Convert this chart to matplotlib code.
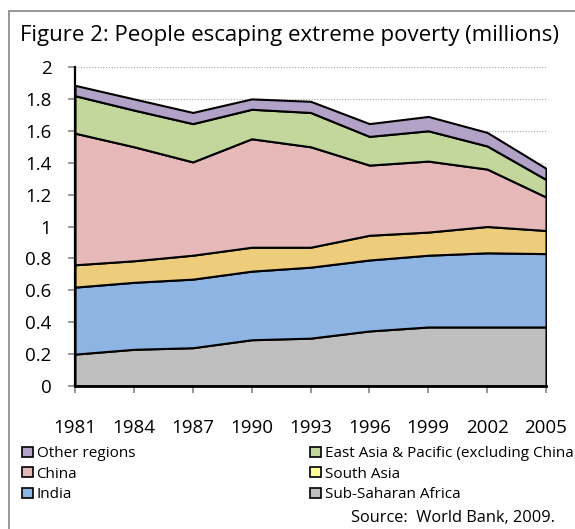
import matplotlib
matplotlib.use('Agg')
from matplotlib import pyplot as plt
from matplotlib.patches import Rectangle

plt.rcParams['font.family'] = 'Open Sans'

years = [1981, 1984, 1987, 1990, 1993, 1996, 1999, 2002, 2005]

# people escaping extreme poverty by region (millions, as labelled)
ssa = [0.20, 0.23, 0.24, 0.29, 0.30, 0.345, 0.37, 0.37, 0.37]
india = [0.42, 0.42, 0.43, 0.43, 0.445, 0.445, 0.45, 0.465, 0.46]
south_asia = [0.14, 0.135, 0.15, 0.15, 0.125, 0.155, 0.145, 0.165, 0.145]
china = [0.825, 0.715, 0.585, 0.68, 0.63, 0.44, 0.445, 0.36, 0.21]
east_asia = [0.235, 0.23, 0.24, 0.185, 0.215, 0.18, 0.19, 0.145, 0.11]
other = [0.065, 0.07, 0.07, 0.065, 0.07, 0.08, 0.09, 0.085, 0.07]

names = ['Sub-Saharan Africa', 'India', 'South Asia', 'China',
         'East Asia & Pacific (excluding China', 'Other regions']
colors = ['#BFBFBF', '#8EB4E3', '#EDCD7B', '#E6B9B8', '#C3D69B', '#B3A2C7']
legend_colors = ['#BFBFBF', '#8EB4E3', '#FFFF99', '#E6B9B8', '#C3D69B', '#B3A2C7']

fig = plt.figure(figsize=(5.75, 5.29), dpi=100)

# grey outer frame
fig.patches.append(Rectangle((9 / 575, -0.5), 2, 1.5 - 11 / 529, transform=fig.transFigure,
                             fill=False, edgecolor='#868686', linewidth=1.2))

fig.text(20 / 575, 1 - 41 / 529, 'Figure 2: People escaping extreme poverty (millions)',
         fontsize=16, va='baseline', ha='left')

ax = fig.add_axes([75 / 575, 1 - 386 / 529, 471 / 575, 319 / 529])
ax.stackplot(years, ssa, india, south_asia, china, east_asia, other,
             colors=colors, edgecolor='black', linewidth=1.5, zorder=2)

ax.set_xlim(1981, 2005)
ax.set_ylim(0, 2)
ax.set_xticks(years)
ax.set_yticks([0, 0.2, 0.4, 0.6, 0.8, 1, 1.2, 1.4, 1.6, 1.8, 2])
ax.set_yticklabels(['0', '0.2', '0.4', '0.6', '0.8', '1', '1.2', '1.4', '1.6', '1.8', '2'])
ax.yaxis.grid(True, color='#A6A6A6', linestyle=(0, (1, 1.5)), linewidth=0.8)
ax.set_axisbelow(True)

for s in ['top', 'right']:
    ax.spines[s].set_visible(False)
ax.spines['left'].set_linewidth(1.6)
ax.spines['bottom'].set_linewidth(2)
ax.spines['left'].set_zorder(3)
ax.spines['bottom'].set_zorder(3)
ax.tick_params(axis='y', length=5, width=1.2, color='#868686', pad=12, labelsize=13.5)
ax.tick_params(axis='x', length=5, width=1.2, color='#868686', pad=19, labelsize=13.5)

handles = [Rectangle((0, 0), 1, 1, facecolor=c, edgecolor='black', linewidth=1.2)
           for c in legend_colors]

col1 = [5, 3, 1]
col2 = [4, 2, 0]
leg_kw = dict(loc='upper left', frameon=False, fontsize=11, handlelength=0.7,
              handleheight=0.65, handletextpad=0.25, labelspacing=0.36,
              borderpad=0, borderaxespad=0)
fig.legend([handles[i] for i in col1], [names[i] for i in col1],
           bbox_to_anchor=(22 / 575, 1 - 446 / 529), **leg_kw)
fig.legend([handles[i] for i in col2], [names[i] for i in col2],
           bbox_to_anchor=(310 / 575, 1 - 446 / 529), **leg_kw)

fig.text(555 / 575, 1 - 518 / 529, 'Source:  World Bank, 2009.', fontsize=11.8,
         ha='right', va='center')

fig.savefig('out.png', dpi=100)
